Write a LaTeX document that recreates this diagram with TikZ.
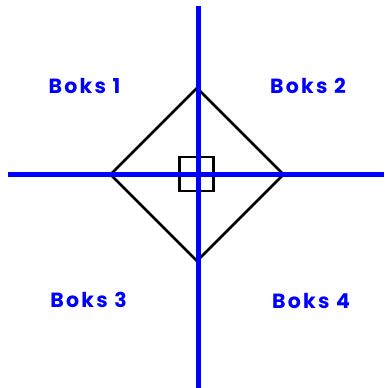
\documentclass[tikz,border=0pt]{standalone}
\usepackage{fontspec}
\setmainfont{Poppins}
\definecolor{pureblue}{RGB}{0,0,255}
\begin{document}
\begin{tikzpicture}[x=1pt,y=-1pt,
  axis/.style={draw=pureblue,line width=5pt},
  shapeline/.style={draw=black,line width=2.8pt,line join=miter},
  label/.style={text=pureblue,font=\fontsize{20.5}{24}\selectfont\bfseries\addfontfeatures{LetterSpace=11},inner sep=0pt}]
\useasboundingbox (0,0) rectangle (384,388);
% axes
\coordinate (vt) at (198,6);
\coordinate (vb) at (198,388);
\coordinate (hl) at (8,174.5);
\coordinate (hr) at (384,174.5);
% diamond
\coordinate (dt) at (197,88);
\coordinate (dl) at (110.5,174.5);
\coordinate (dr) at (283.5,174.5);
\coordinate (db) at (197,261);
\draw[shapeline] (dt) -- (dr) -- (db) -- (dl) -- cycle;
\node[draw=black,line width=2.4pt,minimum size=34pt,inner sep=0pt] (sq) at (196.5,173.7) {};
\draw[axis] (vt) -- (vb);
\draw[axis] (hl) -- (hr);
\node[label] (b1) at (84.5,86) {Boks 1};
\node[label] (b2) at (308,86) {Boks 2};
\node[label] (b3) at (88.5,300) {Boks 3};
\node[label] (b4) at (311,300.5) {Boks 4};
\end{tikzpicture}
\end{document}
